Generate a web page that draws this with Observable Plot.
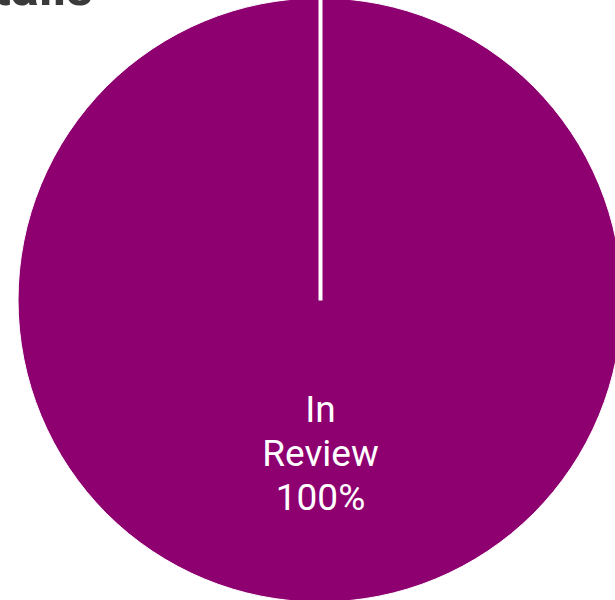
<!DOCTYPE html>
<html>
<head>
<meta charset="utf-8">
<script src="https://cdn.jsdelivr.net/npm/d3@7"></script>
<script src="https://cdn.jsdelivr.net/npm/@observablehq/plot@0.6"></script>
<style>
  html, body { margin: 0; padding: 0; background: #fff; overflow: hidden; }
  body { position: relative; width: 615px; height: 600px; font-family: Roboto, "Noto Sans", sans-serif; }
  #title { position: absolute; right: 522px; top: -38px; font-size: 52px; font-weight: 700; color: #3a3a3a; white-space: nowrap; line-height: 52px; z-index: 2; }
  #chart { position: absolute; left: 0; top: 0; }
</style>
</head>
<body>
<div id="title">Review Details</div>
<div id="chart"></div>
<script>
const categories = ["In Review"];
const labelLines = ["In\nReview"];
const values = [100];
const colors = ["#8e0070"];

const total = d3.sum(values);
const arcs = d3.pie().sort(null)(values).map((a, i) => ({
  ...a,
  category: categories[i],
  label: labelLines[i] + "\n" + Math.round(values[i] / total * 100) + "%",
  color: colors[i]
}));

const mid = a => (a.startAngle + a.endAngle) / 2;

const sliceMark = (index, scales) => {
  const cx = scales.x(0), cy = scales.y(0);
  const r = scales.x(1) - scales.x(0);
  const arcGen = d3.arc().innerRadius(0).outerRadius(r);
  const g = d3.create("svg:g").attr("transform", `translate(${cx},${cy})`);
  g.selectAll("path").data(arcs).join("path")
    .attr("d", arcGen)
    .attr("fill", d => d.color)
    .attr("stroke", "#fff")
    .attr("stroke-width", 1);
  return g.node();
};

const chart = Plot.plot({
  width: 615,
  height: 600,
  margin: 0,
  x: {domain: [-1, 1], range: [18, 622], axis: null},
  y: {domain: [-1, 1], range: [602, -2], axis: null},
  style: {background: "transparent", overflow: "visible"},
  marks: [
    sliceMark,
    Plot.link(arcs, {
      x1: 0, y1: 0,
      x2: d => Math.sin(d.startAngle),
      y2: d => Math.cos(d.startAngle),
      stroke: "#fff",
      strokeWidth: 4
    }),
    Plot.text(arcs, {
      x: d => 0.5 * Math.sin(mid(d)),
      y: d => 0.5 * Math.cos(mid(d)),
      text: "label",
      fill: "#fff",
      fontSize: 37,
      lineHeight: 1.19,
      fontFamily: "Roboto",
      textAnchor: "middle"
    })
  ]
});
document.getElementById("chart").appendChild(chart);
</script>
</body>
</html>
